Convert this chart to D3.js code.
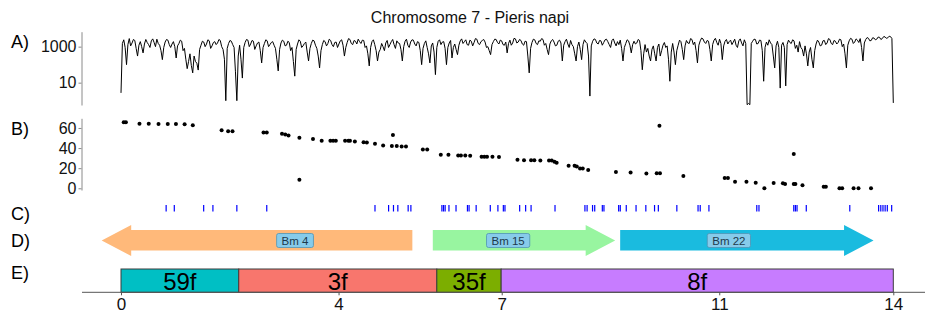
<!DOCTYPE html>
<html><head><meta charset="utf-8">
<script src="https://cdn.jsdelivr.net/npm/d3@7"></script>
<style>body{margin:0;background:#fff} svg{display:block;font-family:"Liberation Sans",Arial,sans-serif}</style>
</head><body><svg id="c" width="925" height="320"></svg>
<script>
// ---------------- data ----------------
const title = "Chromosome 7 - Pieris napi";
const panelLabels = ["A)", "B)", "C)", "D)", "E)"];
const chromLength = 14.2; // Mb
const xTickValues = [0, 4, 7, 11, 14.2];
const xTickLabels = ["0", "4", "7", "11", "14"];

// A) read coverage, evenly spaced along the chromosome
const coverage = [
 2.7,1500,2400,900,100,1300,2800,1100,1600,2500,2200,800,300,1200,1900,1000,450,1400,2500,1700,1300,900,2100,2700,1700,1000,2600,1500,1200,600,190,900,1800,2500,2300,1300,900,1400,1900,1000,
 235,1100,1500,2300,2000,600,800,200,60,150,400,90,35,300,150,120,50,700,1200,2000,1800,1000,1400,2400,2100,800,1100,1700,1900,1300,1600,2500,2200,1000,700,200,1,800,1500,2200,
 2000,1300,900,40,1,300,1200,200,18,900,1700,2500,2300,1000,1400,2200,2000,700,1100,1600,1800,600,125,900,1500,2400,2100,1000,1300,1700,1900,1200,800,200,45,700,1600,2300,2000,1100,
 1200,2000,1700,600,900,150,23,700,1400,2400,2000,900,1100,1500,1800,500,160,800,1500,2300,2100,1200,800,300,66,600,1300,2200,1900,1100,1500,2600,2200,1300,1000,1700,1800,900,1400,2100,
 2400,1200,300,900,1700,2800,2500,1500,1300,2200,2000,1400,2600,1900,1500,2300,2200,900,1100,400,85,900,1900,2400,1300,600,160,500,700,1500,1000,600,1600,2200,900,1300,1900,2500,1300,800,
 2100,1600,1500,700,160,1000,2000,2600,1200,900,1800,2400,2300,1400,1100,1900,1700,600,100,800,1500,2100,900,400,125,1100,1600,500,28,900,2000,2400,1300,1800,1900,800,100,900,1600,2200,
 235,900,1400,700,360,1200,2100,2700,1500,1900,2400,1300,1200,2300,2000,1100,1700,2800,2600,1500,1300,1900,2200,2500,1800,900,1000,600,360,1300,1900,2600,2500,1700,1400,2300,2100,1300,1200,1800,
 450,1500,2300,1200,1600,2900,2700,1600,1800,2500,2200,1400,1200,2000,1900,300,35,800,1700,2600,2400,1500,1300,2100,2000,2800,2500,1200,1500,700,360,1400,2100,2500,1800,1100,1200,2000,2300,1600,
 160,1200,1900,2600,1400,900,2200,1300,1000,400,160,1000,1800,700,190,1300,2400,1800,1500,300,1.8,1100,2000,2700,2500,1600,1400,2200,2100,1200,1700,2400,2600,1900,1300,900,2200,2700,1600,1100,
 1900,1300,2300,800,160,900,1500,2400,2100,1200,450,1300,2000,1400,1600,2500,2200,600,52,400,1300,500,800,300,160,700,1100,400,160,900,1400,300,600,1200,1700,900,1100,200,12,500,
 1500,500,100,600,1200,2300,1900,700,190,1100,2200,1600,1500,2800,2500,1300,1800,600,125,1200,2100,3000,2700,1800,1500,2200,2000,700,160,1300,2300,2900,1700,1200,2600,1500,190,1100,2000,2500,
 1400,1900,2300,1300,1800,2600,1200,900,2100,2700,1600,1100,2400,1500,0.6,0.7,0.6,1500,2000,2600,2500,1400,1500,2300,2200,600,12,900,1800,1200,2400,1600,1300,300,66,1100,2000,900,5,1200,
 1700,900,6.6,1300,2300,1700,1500,2400,2100,800,1200,500,1900,900,700,300,1100,400,85,500,900,200,66,600,1400,2300,1800,1100,1200,2100,2200,1300,1600,2800,2500,1500,1300,2200,2000,1400,
 1700,2600,2400,1000,1400,400,66,1200,2100,2900,2600,1500,1800,2700,2300,1700,2800,900,160,1600,2500,3200,2900,2100,2200,3100,3000,2400,2600,3400,3300,2500,2800,3600,3500,2900,3100,3800,3600,2800,
 0.75
];
const covTicks = [10, 1000];

// B) marker positions (Mb) and map positions
const markerPos = [0.05,0.09,0.34,0.51,0.69,0.86,1.01,1.17,1.32,1.85,1.97,2.05,2.62,2.68,2.96,3.02,3.08,3.28,3.28,3.53,
 3.69,3.85,3.90,3.95,4.12,4.18,4.21,4.30,4.46,4.52,4.67,4.82,5.00,4.98,5.07,5.16,5.24,5.55,5.63,5.88,
 6.02,6.20,6.25,6.33,6.42,6.63,6.68,6.73,6.83,6.95,7.29,7.41,7.54,7.60,7.71,7.87,7.92,7.97,8.01,8.23,
 8.34,8.38,8.44,8.49,8.59,9.10,9.37,9.66,9.85,9.91,9.90,10.34,11.10,11.16,11.29,11.50,11.67,11.83,12.00,12.17,
 12.21,12.37,12.37,12.40,12.53,12.92,12.96,13.21,13.26,13.47,13.56,13.79];
const markerCM = [65.6,65.6,64.3,64.3,64,64,64,63.6,62.6,57.6,56.6,56.6,55.6,55.6,54.3,53.6,52.6,50.3,8.6,49,
 47.3,47.3,47.3,47.3,47.3,47.3,47.3,46.6,45.9,45.6,44.3,42.6,53,42,42,41.6,41.6,38.6,38.6,33.3,
 33.3,32.6,32.6,32.6,32.3,31.3,31.3,31.3,31.3,31,28.3,28,27.8,27.8,27.6,27.7,27.6,26.3,25.3,22.3,
 22.3,21.6,19.6,19.6,18.3,16.3,15.6,14.6,15,15,62.3,12.3,10.3,10.3,6.6,6.6,5.6,0,5.3,5,
 4.3,34,4.3,4.3,3,1.6,1.6,0,0,0,0,0];
const bTicks = [0, 20, 40, 60];

// C) feature positions (Mb)
const featurePos = [0.83,0.98,1.52,1.69,2.13,2.68,4.67,4.92,5.01,5.09,5.28,5.33,5.90,5.93,5.96,6.03,6.16,6.37,6.40,6.53,
 6.79,6.93,7.03,7.06,7.33,7.44,7.54,7.98,8.53,8.57,8.67,8.71,8.85,8.88,9.15,9.18,9.29,9.47,9.65,9.81,
 9.88,10.22,10.61,10.65,10.81,11.69,11.73,12.37,12.40,12.43,12.60,13.40,13.93,13.97,14.01,14.05,14.09,14.17];

// D) syntenic blocks (tail -> tip, Mb)
const geneNames = ["Bm 4", "Bm 15", "Bm 22"];
const geneFrom = [5.357, 5.733, 9.178];
const geneTo = [-0.355, 9.086, 13.837];
const geneLabelPos = [3.20, 7.118, 11.177];
const geneColors = ["#FFB97A", "#98F5A0", "#1ABBDF"];

// E) ancestral segments
const blockNames = ["59f", "3f", "35f", "8f"];
const blockStart = [0, 2.165, 5.807, 6.99];
const blockEnd = [2.165, 5.807, 6.99, 14.2];
const blockColors = ["#00BFC4", "#F8766D", "#7CAE00", "#C77CFF"];

// ---------------- drawing ----------------
const svg = d3.select("#c");
const x = d3.scaleLinear().domain([0, chromLength]).range([121, 893.3]);
const axisGrey = "#8a8a8a";

svg.append("text").attr("x", 470).attr("y", 23).attr("text-anchor", "middle")
  .attr("font-size", 16).attr("fill", "#111").text(title);

const labelY = [47.5, 134.5, 219.5, 246.5, 278.5];
svg.selectAll("text.pl").data(panelLabels).join("text").attr("class", "pl")
  .attr("x", 11).attr("y", (d, i) => labelY[i]).attr("font-size", 18).attr("fill", "#000").text(d => d);

function styleYAxis(g) {
  g.select(".domain").attr("stroke", axisGrey);
  g.selectAll(".tick line").attr("stroke", axisGrey);
  g.selectAll(".tick text").attr("font-size", 16).attr("fill", "#111").attr("font-family", null);
}

// A
const yA = d3.scaleLog().domain([0.575, 6760]).range([105, 31.7]);
const gA = svg.append("g").attr("transform", "translate(81.5,0)")
  .call(d3.axisLeft(yA).tickValues(covTicks).tickFormat(d3.format("d")).tickSize(3).tickSizeOuter(0).tickPadding(2));
styleYAxis(gA);
const covStep = chromLength / (coverage.length - 1);
svg.append("path").datum(coverage)
  .attr("d", d3.line().x((d, i) => x(i * covStep)).y(d => yA(d)))
  .attr("fill", "none").attr("stroke", "#000").attr("stroke-width", 1);

// B
const yB = d3.scaleLinear().domain([-1.7, 69.6]).range([190, 118.3]);
const gB = svg.append("g").attr("transform", "translate(81.5,0)")
  .call(d3.axisLeft(yB).tickValues(bTicks).tickSize(3).tickSizeOuter(0).tickPadding(2));
styleYAxis(gB);
svg.selectAll("circle.m").data(markerPos).join("circle").attr("class", "m")
  .attr("cx", d => x(d)).attr("cy", (d, i) => yB(markerCM[i])).attr("r", 2).attr("fill", "#000");

// C
svg.selectAll("line.f").data(featurePos).join("line").attr("class", "f")
  .attr("x1", d => x(d)).attr("x2", d => x(d)).attr("y1", 205).attr("y2", 211.5)
  .attr("stroke", "#0000FF").attr("stroke-width", 1.2);

// D
const headLen = 29.5, bodyTop = 230, bodyBot = 250.5, headTop = 225, headBot = 256, mid = 240.5;
geneNames.forEach((name, i) => {
  const xt = x(geneFrom[i]), xp = x(geneTo[i]);
  const s = Math.sign(xp - xt), xb = xp - s * headLen;
  const pts = [[xt, bodyTop], [xb, bodyTop], [xb, headTop], [xp, mid], [xb, headBot], [xb, bodyBot], [xt, bodyBot]];
  svg.append("path").attr("d", d3.line()(pts) + "Z").attr("fill", geneColors[i]);
});
geneNames.forEach((name, i) => {
  const g = svg.append("g");
  const t = g.append("text").attr("x", x(geneLabelPos[i])).attr("y", mid + 4).attr("text-anchor", "middle")
    .attr("font-size", 11.5).attr("fill", "#1d3a4c").text(name);
  const w = t.node().getComputedTextLength() + 10;
  g.insert("rect", "text").attr("x", x(geneLabelPos[i]) - w / 2).attr("y", mid - 7).attr("width", w).attr("height", 14)
    .attr("rx", 2).attr("fill", "#87CBEA").attr("stroke", "#4f94b5").attr("stroke-width", 0.8);
});

// E
blockNames.forEach((name, i) => {
  svg.append("rect").attr("x", x(blockStart[i])).attr("y", 269).attr("width", x(blockEnd[i]) - x(blockStart[i])).attr("height", 23.3)
    .attr("fill", blockColors[i]).attr("stroke", "#3d3d3d").attr("stroke-width", 1);
  svg.append("text").attr("x", (x(blockStart[i]) + x(blockEnd[i])) / 2).attr("y", 290).attr("text-anchor", "middle")
    .attr("font-size", 24).attr("fill", "#000").text(name);
});

// x axis
svg.append("line").attr("x1", 82).attr("x2", 925).attr("y1", 292.3).attr("y2", 292.3).attr("stroke", "#555");
const gX = svg.append("g").attr("transform", "translate(0,292.3)")
  .call(d3.axisBottom(x).tickValues(xTickValues).tickFormat((d, i) => xTickLabels[i]).tickSize(3).tickSizeOuter(0).tickPadding(3));
gX.select(".domain").remove();
gX.selectAll(".tick line").attr("stroke", "#555");
gX.selectAll(".tick text").attr("font-size", 17).attr("fill", "#111").attr("font-family", null);
</script></body></html>
